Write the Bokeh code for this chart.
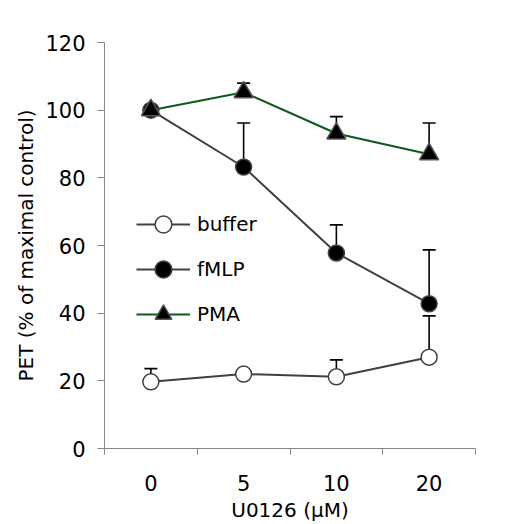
from bokeh.plotting import figure
from bokeh.models import (Range1d, FixedTicker, ColumnDataSource, Whisker, TeeHead,
                          Legend, LegendItem)
from bokeh.embed import file_html
from bokeh.resources import INLINE

# ---- data ----
doses = ["0", "5", "10", "20"]
buffer_vals = [19.7, 22.0, 21.2, 27.0]
buffer_err = [3.9, 0.0, 5.0, 12.2]
fmlp_vals = [100.0, 83.2, 57.8, 42.8]
fmlp_err = [0.0, 13.0, 8.3, 15.9]
pma_vals = [100.0, 105.3, 93.1, 87.0]
pma_err = [0.0, 2.7, 5.0, 9.2]
y_ticks = [0, 20, 40, 60, 80, 100, 120]

FONT = "DejaVu Sans"
xs = [i + 0.5 for i in range(len(doses))]

p = figure(width=532, height=524, output_backend="svg", toolbar_location=None,
           x_range=Range1d(0, len(doses)), y_range=Range1d(0, 120),
           min_border_left=104, min_border_right=57, min_border_top=42, min_border_bottom=74)
p.outline_line_color = None
p.xgrid.visible = False
p.ygrid.visible = False
p.background_fill_color = "white"
p.border_fill_color = "white"

# axes
xa = p.xaxis[0]
xa.ticker = FixedTicker(ticks=xs, minor_ticks=list(range(len(doses) + 1)))
xa.major_label_overrides = {x: d for x, d in zip(xs, doses)}
xa.major_tick_line_color = None
xa.minor_tick_in = 0
xa.minor_tick_out = 6
xa.minor_tick_line_color = "#888888"
xa.axis_line_color = "#888888"
xa.axis_label = "U0126 (μM)"
xa.major_label_standoff = 20
xa.axis_label_standoff = 4

ya = p.yaxis[0]
ya.ticker = FixedTicker(ticks=y_ticks, minor_ticks=[])
ya.major_tick_in = 0
ya.major_tick_out = 7
ya.major_tick_line_color = "#888888"
ya.axis_line_color = "#888888"
ya.axis_label = "PET (% of maximal control)"
ya.major_label_standoff = 12
ya.axis_label_standoff = 4

for ax in (xa, ya):
    ax.major_label_text_font = FONT
    ax.major_label_text_font_size = "21px"
    ax.major_label_text_color = "black"
    ax.axis_label_text_font = FONT
    ax.axis_label_text_font_size = "20px"
    ax.axis_label_text_font_style = "normal"
    ax.axis_label_text_color = "black"


def add_series(vals, errs, line_color, marker, fill, outline, size):
    src = ColumnDataSource(dict(x=xs, y=vals))
    lr = p.line("x", "y", source=src, line_color=line_color, line_width=2)
    ex = [x for x, e in zip(xs, errs) if e > 0]
    ey = [v for v, e in zip(vals, errs) if e > 0]
    eu = [v + e for v, e in zip(vals, errs) if e > 0]
    esrc = ColumnDataSource(dict(x=ex, y=ey, up=eu))
    w = Whisker(base="x", lower="y", upper="up", source=esrc, line_color="black",
                line_width=1.6, lower_head=None,
                upper_head=TeeHead(size=13, line_color="black", line_width=1.6))
    p.add_layout(w)
    mr = p.scatter("x", "y", source=src, marker=marker, size=size, fill_color=fill,
                   line_color=outline, line_width=1.5)
    return lr, mr


b_l, b_m = add_series(buffer_vals, buffer_err, "#404040", "circle", "white", "#404040", 16)
f_l, f_m = add_series(fmlp_vals, fmlp_err, "#404040", "circle", "black", "#444444", 16)
p_l, p_m = add_series(pma_vals, pma_err, "#0b5a1a", "triangle", "black", "#555555", 19)

legend = Legend(items=[LegendItem(label="buffer", renderers=[b_l, b_m]),
                       LegendItem(label="fMLP", renderers=[f_l, f_m]),
                       LegendItem(label="PMA", renderers=[p_l, p_m])],
                location=(32, 113), orientation="vertical",
                glyph_width=54, glyph_height=42, label_height=42, spacing=3,
                padding=0, margin=0, label_standoff=7,
                label_text_font=FONT, label_text_font_size="20px", label_text_color="black",
                background_fill_alpha=0, border_line_color=None)
p.add_layout(legend, "center")

open("out.html", "w").write(file_html(p, INLINE))
